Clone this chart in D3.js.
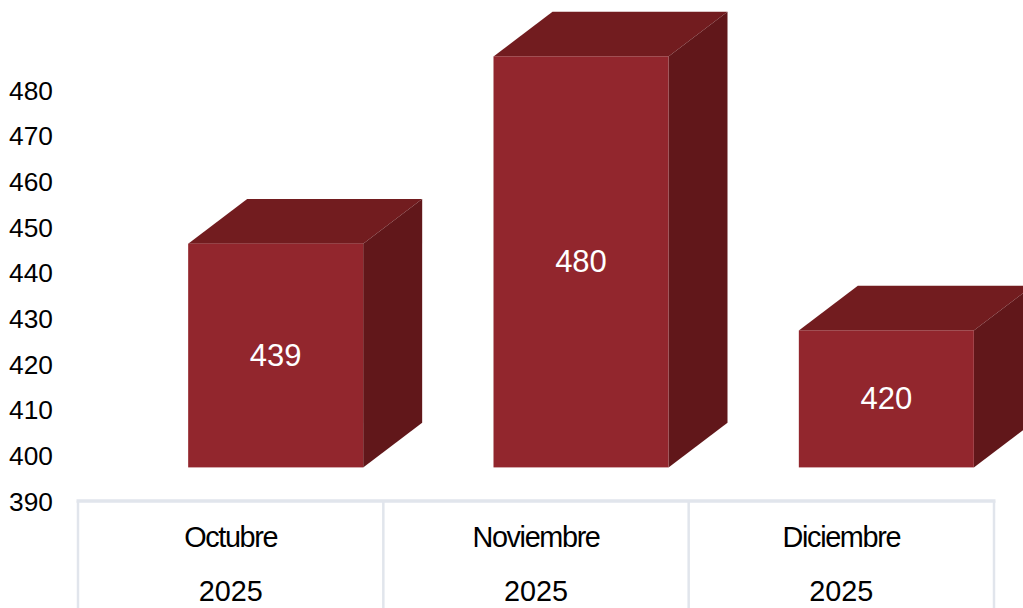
<!DOCTYPE html>
<html><head><meta charset="utf-8">
<script src="https://cdn.jsdelivr.net/npm/d3@7"></script>
<style>html,body{margin:0;padding:0;background:#fff;overflow:hidden}svg{display:block}text{font-family:"Liberation Sans",Arial,sans-serif}</style>
</head><body><svg id="c" width="1023" height="608"></svg>
<script>
const months = ["Octubre","Noviembre","Diciembre"];
const years = ["2025","2025","2025"];
const values = [439,480,420];
const yTicks = [390,400,410,420,430,440,450,460,470,480];
const W=1023,H=608;
const svg=d3.select("#c");
const x=d3.scaleBand().domain(d3.range(months.length)).range([78,994]);
const y=d3.scaleLinear().domain([390,480]).range([500.6,89.6]);
const barW=175, depthX=59, depthY=44.7, floorUp=33.2, barShift=45;
const frontX=i=>x(i)+x.bandwidth()/2+barShift-barW/2;
const base=y(390)-floorUp;
const barTop=v=>y(v)-floorUp;

// axis labels
const yAxis=d3.axisLeft(y).tickValues(yTicks).tickSize(0).tickPadding(0);
const gy=svg.append("g").attr("transform","translate(53,0)").call(yAxis);
gy.select(".domain").remove();
gy.selectAll("text").attr("font-size",26.3).attr("fill","#000").attr("dy","0.36em").attr("font-family",'"Liberation Sans",Arial,sans-serif');

// category table
const grid="#e1e5ec";
const xEdges=[...d3.range(months.length).map(i=>x(i)),x.range()[1]];
svg.append("g").selectAll("line").data(xEdges).join("line")
 .attr("x1",d=>d).attr("x2",d=>d).attr("y1",501).attr("y2",H).attr("stroke",grid).attr("stroke-width",2.5);
svg.append("line").attr("x1",76.5).attr("x2",995.5).attr("y1",501).attr("y2",501).attr("stroke",grid).attr("stroke-width",3.5);
svg.append("g").selectAll("text").data(months).join("text")
 .attr("x",(d,i)=>x(i)+x.bandwidth()/2).attr("y",547).attr("text-anchor","middle")
 .attr("font-size",28.8).attr("letter-spacing",-1.35).attr("fill","#000").text(d=>d);
svg.append("g").selectAll("text").data(years).join("text")
 .attr("x",(d,i)=>x(i)+x.bandwidth()/2).attr("y",601).attr("text-anchor","middle")
 .attr("font-size",28.8).attr("fill","#000").text(d=>d);

// bars
const bars=svg.append("g").selectAll("g").data(values).join("g");
bars.append("path").attr("fill","#721c1f").attr("d",(v,i)=>{const a=frontX(i),t=barTop(v);
 return d3.line()([[a,t],[a+depthX,t-depthY],[a+barW+depthX,t-depthY],[a+barW,t]])+"Z";});
bars.append("path").attr("fill","#61171a").attr("d",(v,i)=>{const a=frontX(i)+barW,t=barTop(v);
 return d3.line()([[a,t],[a+depthX,t-depthY],[a+depthX,base-depthY],[a,base]])+"Z";});
bars.append("rect").attr("fill","#92262d").attr("x",(v,i)=>frontX(i)).attr("y",v=>barTop(v)).attr("width",barW).attr("height",v=>base-barTop(v));
bars.append("text").attr("x",(v,i)=>frontX(i)+barW/2).attr("y",v=>(barTop(v)+base)/2+10.5)
 .attr("text-anchor","middle").attr("font-size",31).attr("fill","#fff").text(v=>v);
</script></body></html>
